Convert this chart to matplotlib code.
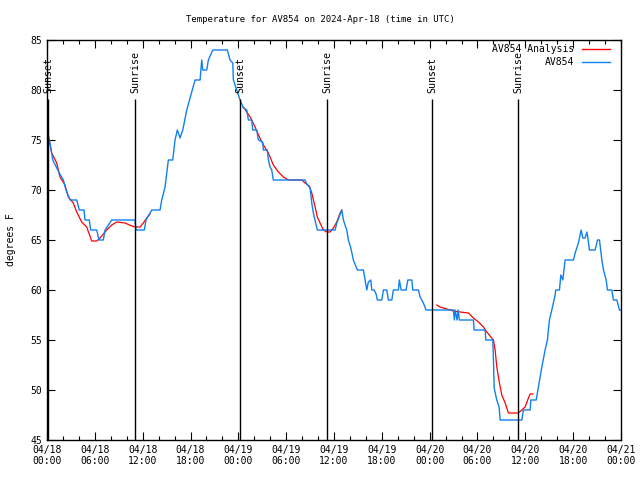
import numpy as np
import matplotlib
matplotlib.use("Agg")
from matplotlib import pyplot as plt
from matplotlib.ticker import MultipleLocator

# hours since 04/18 00:00 UTC
obs_hours = [0.0, 0.38, 0.72, 1.22, 1.54, 2.05, 2.38, 2.89, 3.73, 4.05, 4.64, 4.77, 5.31, 5.48,
             6.24, 6.52, 7.06, 7.28, 8.12, 11.04, 11.17, 12.21, 12.42, 13.14, 14.18, 14.39,
             14.81, 15.22, 15.77, 16.06, 16.35, 16.69, 17.03, 17.53, 18.57, 19.20, 19.41,
             19.54, 20.04, 20.24, 20.79, 22.62, 22.96, 23.30, 23.38, 23.80, 24.22, 24.63,
             25.06, 25.26, 25.68, 25.81, 26.31, 26.51, 27.06, 27.14, 27.64, 27.77, 27.98,
             28.19, 28.39, 32.37, 32.58, 33.00, 33.21, 33.41, 33.91, 36.14, 36.35, 36.98,
             37.18, 37.60, 37.80, 38.11, 38.43, 38.93, 39.69, 39.90, 40.11, 40.31, 40.61,
             40.74, 41.03, 41.28, 41.44, 42.00, 42.20, 42.62, 42.82, 43.25, 43.45, 44.08,
             44.20, 44.42, 45.04, 45.26, 45.76, 45.88, 46.59, 46.80, 47.01, 47.21, 47.55,
             50.98, 51.10, 51.19, 51.44, 51.57, 51.73, 53.49, 53.58, 54.96, 55.04, 55.92,
             56.00, 56.09, 56.42, 56.71, 56.84, 59.56, 59.76, 60.60, 60.69, 61.36, 61.64,
             62.07, 62.48, 62.77, 63.02, 63.32, 63.74, 63.80, 64.28, 64.45, 64.70, 64.99,
             66.04, 66.25, 66.66, 67.00, 67.21, 67.50, 67.72, 67.84, 68.04, 68.76, 69.05,
             69.30, 69.60, 69.80, 70.14, 70.30, 70.85, 71.05, 71.48, 71.81, 72.02]
obs_temp = [76, 74.7, 73, 72.2, 71.7, 71, 70, 69, 69, 68, 68, 67, 67, 66,
            66, 65, 65, 66, 67, 67, 66, 66, 67, 68, 68, 69,
            70.3, 73, 73, 75, 76, 75.2, 76, 78, 81, 81, 83,
            82, 82, 83, 84, 84, 83, 82.7, 81, 80, 79, 78.2,
            78, 77, 77, 76, 76, 75, 74.8, 74, 74, 73, 72.3,
            72, 71, 71, 70.6, 70.2, 68.7, 67.7, 66, 66, 66.7, 68,
            67, 66, 65, 64.2, 63, 62, 62, 61, 60, 60.8, 61,
            60, 60, 59.6, 59, 59, 60, 60, 59, 59, 60, 60,
            61, 60, 60, 61, 61, 60, 60, 59.3, 59, 58.7, 58,
            58, 57, 58, 57, 58, 57, 57, 56, 56, 55, 55,
            53, 50.2, 49, 48.3, 47, 47, 48, 48, 49, 49, 50.3,
            52.3, 54, 55, 57, 58, 59.5, 60, 60, 61.5, 61, 63,
            63, 63.7, 64.7, 66, 65.2, 65.2, 65.8, 65.2, 64, 64, 65,
            65, 63, 62, 61, 60, 60, 59, 59, 58, 58]

# analysis segments
ana1_hours = [0.0, 0.59, 1.22, 1.63, 2.26, 2.67, 3.30, 3.73, 4.35, 4.98, 5.61, 6.24, 6.65,
              7.49, 8.12, 8.75, 9.79, 10.63, 11.04, 11.67, 12.08, 12.51, 12.92]
ana1_temp = [76, 73.7, 72.7, 71.3, 70.5, 69.3, 68.7, 67.8, 66.8, 66.3, 64.9, 64.9, 65.2,
             66, 66.5, 66.8, 66.7, 66.4, 66.3, 66.3, 66.7, 67.2, 67.6]
ana2_hours = [24.63, 25.06, 25.56, 26.10, 26.64, 27.14, 27.77, 28.39, 29.02, 29.65, 30.28,
              31.96, 32.37, 32.91, 33.21, 33.63, 33.91, 34.25, 34.67, 35.09, 35.51, 35.92,
              36.35, 36.76, 36.98]
ana2_temp = [78.3, 77.8, 77.2, 76.3, 75.3, 74.5, 73.7, 72.5, 71.8, 71.3, 71,
             71, 70.7, 70.4, 69.7, 68.3, 67.3, 66.7, 66, 65.8, 65.8, 66.2,
             66.8, 67.7, 68]
ana3_hours = [48.90, 49.31, 50.15, 50.98, 51.82, 52.86, 53.49, 54.12, 54.74, 55.17, 55.67,
              56.00, 56.21, 56.42, 56.75, 57.05, 57.47, 57.88, 59.13, 59.56, 59.97, 60.39,
              60.60, 60.94]
ana3_temp = [58.5, 58.3, 58.1, 57.9, 57.8, 57.7, 57.2, 56.8, 56.3, 55.8, 55.3,
             55, 54, 52.3, 50.7, 49.5, 48.7, 47.7, 47.7, 48, 48.3, 49.2,
             49.6, 49.6]

sun_hours = [0.15, 11.1, 24.2, 35.15, 48.35, 59.14]
sun_labels = ["Sunset", "Sunrise", "Sunset", "Sunrise", "Sunset", "Sunrise"]

tick_hours = list(range(0, 73, 6))
tick_labels = ["04/18\n00:00", "04/18\n06:00", "04/18\n12:00", "04/18\n18:00",
               "04/19\n00:00", "04/19\n06:00", "04/19\n12:00", "04/19\n18:00",
               "04/20\n00:00", "04/20\n06:00", "04/20\n12:00", "04/20\n18:00",
               "04/21\n00:00"]

red = "#ff0000"
blue = "#1080f0"
font = "DejaVu Sans Mono"

fig = plt.figure(figsize=(6.4, 4.8), dpi=100)
ax = fig.add_axes([47 / 640, 40 / 480, 574 / 640, 400 / 480])

for hh, tt in [(ana1_hours, ana1_temp), (ana2_hours, ana2_temp), (ana3_hours, ana3_temp)]:
    ax.plot(hh, tt, color=red, lw=0.9)
ax.plot(obs_hours, obs_temp, color=blue, lw=1.0)

for h, lab in zip(sun_hours, sun_labels):
    ax.vlines(h, 45, 79.1, color="black", lw=1.0)
    ax.text(h, 79.7, lab, rotation=90, ha="center", va="bottom", fontsize=7.2, family=font)

ax.set_xlim(0, 72)
ax.set_ylim(45, 85)
ax.set_xticks(tick_hours)
ax.set_xticklabels(tick_labels)
ax.xaxis.set_minor_locator(MultipleLocator(2))
ax.yaxis.set_major_locator(MultipleLocator(5))
ax.tick_params(which="both", direction="in", top=True, right=True, labelsize=7)
ax.tick_params(which="major", length=6, width=0.8)
ax.tick_params(which="minor", length=3, width=0.8)
for lab in ax.get_xticklabels() + ax.get_yticklabels():
    lab.set_family(font)
for s in ax.spines.values():
    s.set_linewidth(1.0)

ax.set_ylabel("degrees F", fontsize=7, family=font, labelpad=10)
# gnuplot centres the title on the whole canvas
fig.text(0.5, 1 - 20 / 480, "Temperature for AV854 on 2024-Apr-18 (time in UTC)",
         ha="center", va="center", fontsize=6.5, family=font)

# legend drawn gnuplot style: right aligned text, sample line on the right
for y, name, c in [(0.9775, "AV854 Analysis", red), (0.945, "AV854", blue)]:
    ax.text(0.918, y, name, transform=ax.transAxes, ha="right", va="center",
            fontsize=7, family=font)
    ax.plot([0.932, 0.981], [y, y], transform=ax.transAxes, color=c, lw=1.0)

fig.savefig("out.png", dpi=100)
